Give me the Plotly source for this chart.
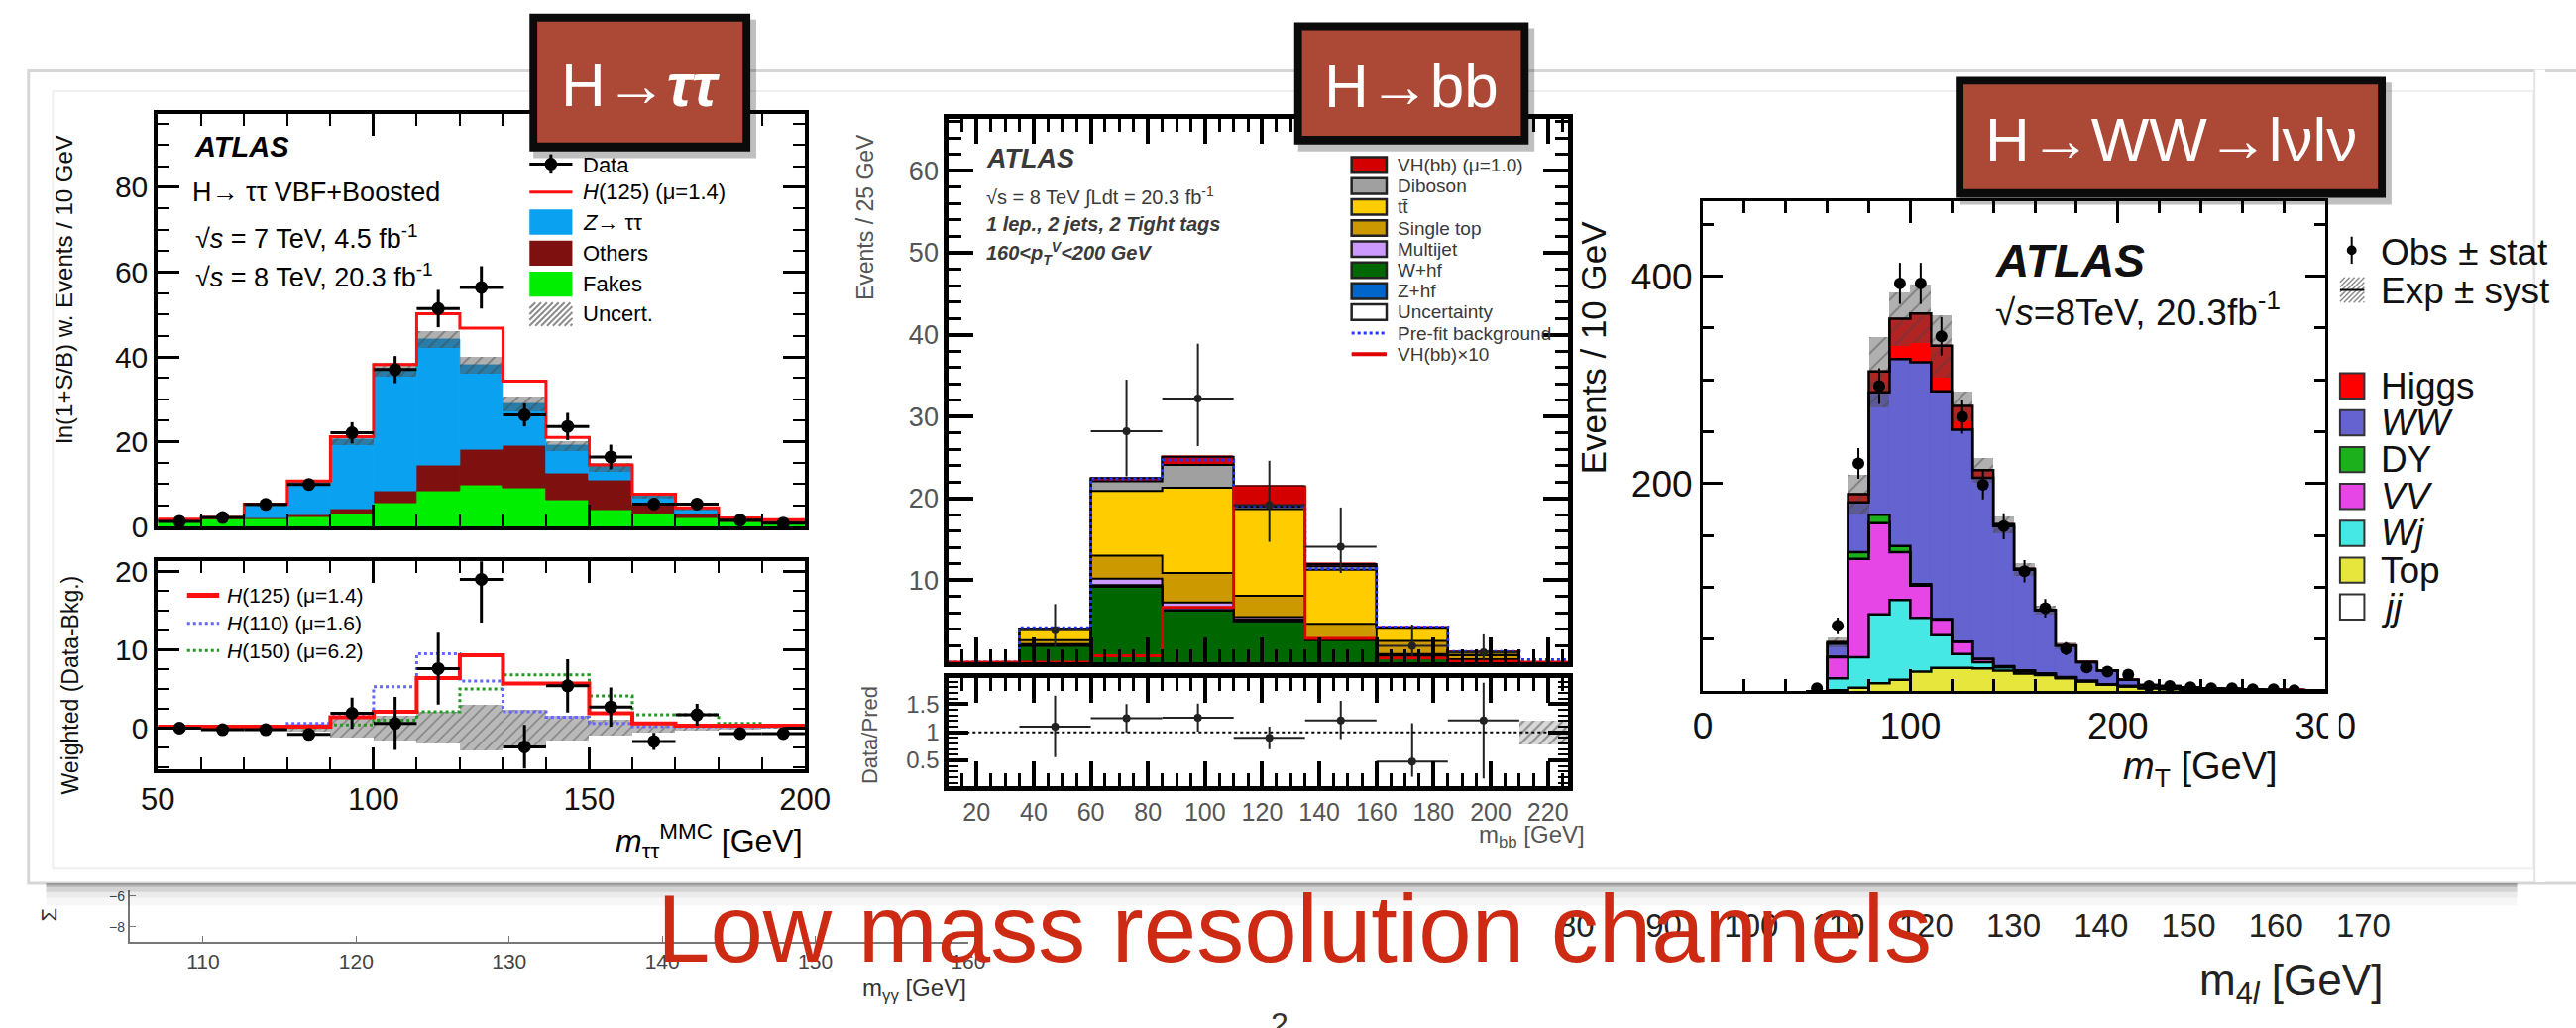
import numpy as np
import plotly.graph_objects as go

W, H = 2599, 1037
SANS = "Liberation Sans, Arial, Helvetica, sans-serif"

# ---------------- H -> tautau (VBF + Boosted), ln(1+S/B) weighted ----------------
tt_edges = [50, 60, 70, 80, 90, 100, 110, 120, 130, 140, 150, 160, 170, 180, 190, 200]
tt_fakes = [1.4, 1.8, 1.7, 2.3, 2.9, 5.6, 8.2, 9.8, 9.1, 6.1, 3.8, 3.0, 1.9, 1.1, 0.8]
tt_others = [0.2, 0.2, 0.3, 0.5, 1.1, 2.6, 6.2, 8.4, 9.9, 6.5, 7.2, 2.0, 1.1, 0.4, 0.6]
tt_ztautau = [0.0, 0.1, 3.1, 7.7, 16.4, 28.8, 29.8, 19.9, 10.0, 6.4, 3.1, 2.2, 1.2, 0.4, 0.1]
tt_h125 = [0.1, 0.0, 0.2, 0.2, 0.8, 1.2, 6.0, 8.7, 5.3, 2.0, 0.4, 0.4, 0.2, 0.1, 0.1]
tt_unc = [0.2, 0.2, 0.4, 0.6, 1.0, 1.6, 2.0, 2.0, 1.8, 1.2, 1.0, 0.6, 0.4, 0.2, 0.2]
tt_data = [1.2, 2.1, 5.2, 9.9, 22.1, 37.0, 51.4, 56.4, 26.3, 23.6, 16.4, 5.3, 5.3, 1.5, 0.8]
tt_data_err = [0.6, 0.8, 1.0, 1.3, 2.5, 3.2, 4.4, 5.0, 2.7, 3.2, 2.9, 1.2, 1.3, 0.6, 0.5]

# weighted (data - background) sub-panel
tt_sub_data = [0.0, -0.2, -0.2, -0.8, 1.9, 0.6, 7.6, 19.0, -2.4, 5.4, 2.7, -1.7, 1.7, -0.7, -0.7]
tt_sub_err = [0.3, 0.3, 0.4, 0.7, 2.0, 3.4, 4.6, 5.5, 2.8, 3.4, 2.5, 1.1, 1.4, 0.6, 0.5]
tt_sub_h125 = [0.2, 0.2, 0.2, 0.2, 1.4, 2.1, 6.4, 9.3, 5.7, 5.7, 1.9, 0.6, 0.3, 0.3, 0.3]
tt_sub_h110 = [0.2, 0.2, 0.2, 0.6, 1.5, 5.3, 9.5, 6.0, 2.1, 1.4, 0.6, 0.2, 0.2, 0.2, 0.2]
tt_sub_h150 = [0.1, 0.1, 0.1, 0.1, 0.4, 1.0, 2.1, 5.0, 6.8, 6.8, 4.1, 1.7, 1.7, 0.6, 0.2]
tt_sub_unc = [0.1, 0.1, 0.2, 0.5, 1.2, 1.6, 2.0, 2.9, 2.3, 1.6, 1.0, 0.6, 0.4, 0.2, 0.1]

# ---------------- VH, H -> bb (1 lepton, 2 jets, 2 tight tags) ----------------
bb_edges = [10, 35, 60, 85, 110, 135, 160, 185, 210, 235]
bb_whf = [0, 2.0, 9.2, 6.3, 5.0, 2.7, 0.8, 0.3, 0]
bb_zhf = [0, 0.1, 0.2, 0.3, 0.2, 0.1, 0.1, 0.05, 0]
bb_multijet = [0, 0.1, 0.8, 0.7, 0.3, 0.1, 0.1, 0.0, 0]
bb_singletop = [0, 0.5, 2.8, 3.6, 2.6, 1.8, 1.6, 0.5, 0]
bb_ttbar = [0, 1.3, 7.9, 10.4, 10.6, 6.6, 1.5, 0.3, 0]
bb_diboson = [0, 0.1, 1.2, 2.8, 0.3, 0.4, 0.1, 0.1, 0]
bb_vh = [0, 0.0, 0.4, 1.0, 2.5, 0.3, 0.05, 0.0, 0]
bb_prefit = [0, 4.2, 22.4, 24.7, 19.1, 11.4, 4.3, 1.3, 0.3]
bb_vh_x10 = [0, 0, 0.8, 6.7, 21.3, 2.9, 0.5, 0.1, 0]
bb_data = [None, 3.9, 28.2, 32.2, 19.2, 14.1, 2.0, 1.2, None]
bb_data_up = [0, 3.2, 6.3, 6.7, 5.4, 4.8, 2.6, 2.2, 0]
bb_data_dn = [0, 2.0, 5.5, 5.8, 4.5, 3.2, 1.3, 1.0, 0]
bb_ratio = [None, 1.10, 1.25, 1.26, 0.90, 1.21, 0.48, 1.21, None]
bb_ratio_up = [0, 0.55, 0.25, 0.25, 0.20, 0.35, 0.68, 0.67, 0]
bb_ratio_dn = [0, 0.54, 0.25, 0.25, 0.20, 0.33, 0.27, 1.03, 0]
bb_ratio_unc = [0, 0.0, 0.0, 0.0, 0.0, 0.0, 0.0, 0.0, 0.21]

# ---------------- H -> WW -> lvlv, transverse mass ----------------
ww_edges = [50, 60, 70, 80, 90, 100, 110, 120, 130, 140, 150, 160, 170, 180, 190,
            200, 210, 220, 230, 240, 250, 260, 270, 280, 290, 300]
ww_top = [0, 1.0, 3.5, 7.8, 11.0, 19.0, 22.5, 22.5, 22.0, 20.0, 17.0, 15.6, 12.5, 9.4, 6.2,
          4.7, 3.0, 2.2, 1.6, 1.2, 1.0, 0.8, 0.6, 0.5, 0.4]
ww_wj = [0, 11.5, 29.3, 66.2, 77.0, 51.7, 31.5, 13.5, 6.0, 3.0, 2.0, 0.9, 0.5, 0.3, 0.2,
         0.2, 0.1, 0.1, 0.1, 0, 0, 0, 0, 0, 0]
ww_vv = [0, 20.3, 94.7, 88.0, 46.0, 31.0, 15.0, 11.5, 3.0, 1.0, 1.0, 0.5, 0.5, 0.3, 0.2,
         0.1, 0.1, 0.1, 0, 0, 0, 0, 0, 0, 0]
ww_dy = [0, 0.5, 6.5, 8.0, 6.0, 1.5, 0.5, 0.3, 0.2, 0.1, 0.1, 0.1, 0.1, 0, 0,
         0, 0, 0, 0, 0, 0, 0, 0, 0, 0]
ww_ww = [0, 12.6, 48.0, 118.0, 180.0, 213.8, 219.5, 204.2, 174.4, 134.9, 96.9, 60.9, 30.4,
         18.0, 13.4, 6.0, 2.8, 2.6, 2.3, 1.8, 1.4, 1.2, 1.0, 0.8, 0.6]
ww_higgs = [0, 1.5, 8.0, 20.0, 39.0, 47.0, 44.0, 23.0, 7.4, 2.0, 1.0, 0.5, 0.3, 0.2, 0.1,
            0, 0, 0, 0, 0, 0, 0, 0, 0, 0]
ww_syst = [0, 5, 19, 34, 26, 28, 30, 14, 12, 8, 6, 4, 3, 2, 1.5, 1, 0.6, 0.5, 0.4, 0.3,
           0.3, 0.2, 0.2, 0.1, 0.1]
ww_data = [3, 63, 219.5, 294, 393, 393, 342, 264.5, 199, 159, 115.7, 80, 41, 23, 19, 16,
           5, 5, 4, 3, 3, 2, 2, 1, None]

# ---------------- slide text ----------------
box_labels = ["H→<b><i>ττ</i></b>", "H→bb", "H→WW→lνlν"]
slide_title = "Low mass resolution channels"
under_ticks_left = [110, 120, 130, 140, 150, 160]
under_ticks_right = [80, 90, 100, 110, 120, 130, 140, 150, 160, 170]

# =====================================================================
def px(x):
    return x / W


def py(y):
    return 1 - y / H


shapes, annots = [], []


def rect(x0, y0, x1, y1, fill, line_color=None, lw=0, layer="above"):
    shapes.append(dict(type="rect", xref="paper", yref="paper", x0=px(x0), x1=px(x1),
                       y0=py(y1), y1=py(y0), fillcolor=fill, layer=layer,
                       line=dict(color=line_color or "rgba(0,0,0,0)", width=lw)))


def seg(x0, y0, x1, y1, color, w, dash="solid", layer="above"):
    shapes.append(dict(type="line", xref="paper", yref="paper", x0=px(x0), x1=px(x1),
                       y0=py(y0), y1=py(y1), layer=layer,
                       line=dict(color=color, width=w, dash=dash)))


def dot(x, y, r, color):
    shapes.append(dict(type="circle", xref="paper", yref="paper", x0=px(x - r), x1=px(x + r),
                       y0=py(y + r), y1=py(y - r), fillcolor=color, line=dict(width=0)))


def hatch(x0, y0, x1, y1, color, step=6, w=1.5):
    h = y1 - y0
    t = x0 - h
    while t < x1:
        s0 = max(0.0, (x0 - t) / h)
        s1 = min(1.0, (x1 - t) / h)
        if s1 > s0:
            seg(t + s0 * h, y1 - s0 * h, t + s1 * h, y1 - s1 * h, color, w)
        t += step


def text(x, y, s, size, color="black", xa="left", ya="middle", angle=0, family=SANS):
    annots.append(dict(x=px(x), y=py(y), xref="paper", yref="paper", text=s, showarrow=False,
                       xanchor=xa, yanchor=ya, textangle=angle,
                       font=dict(family=family, size=size, color=color)))


def centers_widths(edges):
    e = np.asarray(edges, float)
    return 0.5 * (e[:-1] + e[1:]), np.diff(e)


def step_xy(edges, vals, close=True):
    e = list(edges)
    v = list(vals)
    if close:
        return [e[0]] + e[:-1] + [e[-1], e[-1]], [0] + v + [v[-1], 0]
    return e[:-1] + [e[-1]], v + [v[-1]]


fig = go.Figure()


def stack(edges, comps, colors, xa, ya, outline=None, ow=2):
    c, w = centers_widths(edges)
    base = np.zeros(len(c))
    for vals, col in zip(comps, colors):
        v = np.asarray(vals, float)
        fig.add_trace(go.Bar(x=c, y=v, base=base.copy(), width=w, xaxis=xa, yaxis=ya,
                             marker=dict(color=col, line=dict(color=col, width=1)),
                             showlegend=False, hoverinfo="skip"))
        base = base + v
        if outline:
            sx, sy = step_xy(edges, base)
            fig.add_trace(go.Scatter(x=sx, y=sy, mode="lines", line_shape="hv", xaxis=xa, yaxis=ya,
                                     line=dict(color=outline, width=ow), showlegend=False,
                                     hoverinfo="skip"))
    return base


def band(edges, centre, half, xa, ya, color, size=9, sol=0.3):
    c, w = centers_widths(edges)
    centre = np.asarray(centre, float)
    half = np.asarray(half, float)
    fig.add_trace(go.Bar(x=c, y=2 * half, base=centre - half, width=w, xaxis=xa, yaxis=ya,
                         marker=dict(color=color, line=dict(width=0),
                                     pattern=dict(shape="/", size=size, solidity=sol)),
                         showlegend=False, hoverinfo="skip"))


def step_line(edges, vals, xa, ya, color, width, dash="solid"):
    sx, sy = step_xy(edges, vals, close=False)
    fig.add_trace(go.Scatter(x=sx, y=sy, mode="lines", line_shape="hv", xaxis=xa, yaxis=ya,
                             line=dict(color=color, width=width, dash=dash),
                             showlegend=False, hoverinfo="skip"))


def points(edges, vals, up, dn, xa, ya, size, thick, color="black", xerr=True):
    c, w = centers_widths(edges)
    fig.add_trace(go.Scatter(
        x=c, y=vals, mode="markers", xaxis=xa, yaxis=ya,
        marker=dict(color=color, size=size),
        error_y=dict(type="data", symmetric=False, array=up, arrayminus=dn,
                     thickness=thick, width=0, color=color),
        error_x=dict(type="data", array=w / 2, thickness=thick, width=0, color=color,
                     visible=xerr),
        showlegend=False, hoverinfo="skip"))


# ---------------- left: H -> tautau ----------------
C_FAKE, C_OTH, C_Z = "#00EE00", "#7E1010", "#0AA2F0"
tt_bkg = stack(tt_edges, [tt_fakes, tt_others, tt_ztautau], [C_FAKE, C_OTH, C_Z], "x", "y")
band(tt_edges, tt_bkg, tt_unc, "x", "y", "rgba(80,80,80,0.45)", size=9, sol=0.18)
step_line(tt_edges, tt_bkg + np.asarray(tt_h125), "x", "y", "#FF1010", 3)
points(tt_edges, tt_data, tt_data_err, tt_data_err, "x", "y", 13, 3)

band(tt_edges, np.zeros(len(tt_sub_unc)), tt_sub_unc, "x2", "y2", "rgba(100,100,100,0.45)", size=8, sol=0.18)
step_line(tt_edges, tt_sub_h150, "x2", "y2", "#229922", 3, "dot")
step_line(tt_edges, tt_sub_h110, "x2", "y2", "#6666FF", 3, "dot")
step_line(tt_edges, tt_sub_h125, "x2", "y2", "#FF1010", 4)
points(tt_edges, tt_sub_data, tt_sub_err, tt_sub_err, "x2", "y2", 13, 3)

# ---------------- middle: H -> bb ----------------
C_WHF, C_ZHF, C_MJ, C_STOP, C_TT, C_VV, C_VH = ("#006600", "#0066CC", "#CC99FF", "#CC9900",
                                               "#FFCC00", "#A0A0A0", "#D40000")
stack(bb_edges, [bb_whf, bb_zhf, bb_multijet, bb_singletop, bb_ttbar, bb_diboson, bb_vh],
      [C_WHF, C_ZHF, C_MJ, C_STOP, C_TT, C_VV, C_VH], "x3", "y3", outline="black", ow=2)
step_line(bb_edges, bb_prefit, "x3", "y3", "#2233FF", 3, "dot")
step_line(bb_edges, bb_vh_x10, "x3", "y3", "#E00000", 3)
points(bb_edges, bb_data, bb_data_up, bb_data_dn, "x3", "y3", 8, 2, color="#222222")

band(bb_edges, np.ones(len(bb_ratio_unc)), bb_ratio_unc, "x4", "y4", "rgba(170,170,170,0.45)", size=7, sol=0.3)
points(bb_edges, bb_ratio, bb_ratio_up, bb_ratio_dn, "x4", "y4", 8, 2, color="#222222")

# ---------------- right: H -> WW ----------------
C_TOP, C_WJ, C_VVw, C_DY, C_WW, C_H = "#E6E63C", "#46E8E6", "#E646E6", "#1CB01C", "#6563CF", "#FF0000"
ww_tot = stack(ww_edges, [ww_top, ww_wj, ww_vv, ww_dy, ww_ww, ww_higgs],
               [C_TOP, C_WJ, C_VVw, C_DY, C_WW, C_H], "x5", "y5", outline="black", ow=2.5)
band(ww_edges, ww_tot, ww_syst, "x5", "y5", "rgba(80,80,80,0.45)", size=12, sol=0.14)
ww_err = [np.sqrt(v) if v is not None else 0 for v in ww_data]
points(ww_edges, ww_data, ww_err, ww_err, "x5", "y5", 12, 2, xerr=False)

# ---------------- slide underneath (partly hidden) ----------------
fig.add_trace(go.Scatter(x=[None], y=[None], xaxis="x6", yaxis="y6", showlegend=False))
fig.add_trace(go.Scatter(x=[None], y=[None], xaxis="x7", yaxis="y7", showlegend=False))

# ---------------- axes ----------------
def frame(domain, rng, lw, tl, tw, font, minor=None, **kw):
    d = dict(domain=domain, range=rng, showgrid=False, zeroline=False, showline=True,
             linecolor="black", linewidth=lw, mirror="allticks", ticks="inside", ticklen=tl,
             tickwidth=tw, tickcolor="black", tickfont=font, layer="above traces")
    if minor:
        d["minor"] = dict(ticks="inside", tickcolor="black", showgrid=False, **minor)
    d.update(kw)
    return d


FL = dict(family=SANS, size=30, color="#111111")
FM = dict(family=SANS, size=26, color="#555555")
FR = dict(family=SANS, size=37, color="#111111")
xl = [px(145), px(810)]
xm = [px(958), px(1594)]
xr = [px(1733), px(2373)]

layout_axes = dict(
    xaxis=frame(xl, [50, 200], 4, 22, 3, FL, dict(dtick=10, ticklen=12, tickwidth=2),
                tickvals=[50, 100, 150, 200], showticklabels=False, anchor="y"),
    yaxis=frame([py(537), py(111)], [0, 97.4], 4, 22, 3, FL, dict(dtick=5, ticklen=12, tickwidth=2),
                tickvals=[0, 20, 40, 60, 80], anchor="x"),
    xaxis2=frame(xl, [50, 200], 4, 22, 3, dict(FL, size=31), dict(dtick=10, ticklen=12, tickwidth=2),
                 tickvals=[50, 100, 150, 200], anchor="y2"),
    yaxis2=frame([py(787), py(573)], [-5.2, 21.3], 4, 22, 3, FL, dict(dtick=2.5, ticklen=12, tickwidth=2),
                 tickvals=[0, 10, 20], anchor="x2"),
    xaxis3=frame(xm, [10.3, 226.9], 5, 25, 4, FM, dict(dtick=5, tick0=0, ticklen=13, tickwidth=3),
                 tickvals=list(range(20, 221, 20)), showticklabels=False, anchor="y3"),
    yaxis3=frame([py(677), py(117)], [0, 66.3], 5, 25, 4, dict(FM, size=27),
                 dict(dtick=2, tick0=0, ticklen=13, tickwidth=3),
                 tickvals=[10, 20, 30, 40, 50, 60], anchor="x3"),
    xaxis4=frame(xm, [10.3, 226.9], 5, 25, 4, dict(FM, size=25), dict(dtick=5, tick0=0, ticklen=13, tickwidth=3),
                 tickvals=list(range(20, 221, 20)), anchor="y4"),
    yaxis4=frame([py(805), py(693)], [0.04, 1.97], 5, 20, 4, dict(FM, size=24),
                 dict(dtick=0.1, tick0=0, ticklen=10, tickwidth=2),
                 tickvals=[0.5, 1, 1.5], ticktext=["0.5", "1", "1.5"], anchor="x4"),
    xaxis5=frame(xr, [0, 300], 3, 22, 3, FR, dict(dtick=20, tick0=0, ticklen=12, tickwidth=3),
                 tickvals=[0, 100, 200, 300], anchor="y5"),
    yaxis5=frame([py(707), py(201)], [0, 472.6], 3, 20, 3, FR, dict(dtick=50, tick0=0, ticklen=11, tickwidth=3),
                 tickvals=[200, 400], anchor="x5"),
    xaxis6=dict(domain=[px(116), px(978)], range=[105.2, 160], tickvals=under_ticks_left,
                showline=True, linecolor="#777777", linewidth=2, ticks="inside", ticklen=6,
                tickcolor="#777777", showgrid=False, zeroline=False, anchor="y6",
                tickfont=dict(family=SANS, size=21, color="#444444")),
    yaxis6=dict(domain=[py(965), py(912)], range=[-8.94, -5.625], tickvals=[-6, -8],
                showline=True, linecolor="#777777", linewidth=2, ticks="inside", ticklen=6,
                tickcolor="#777777", showgrid=False, zeroline=False, anchor="x6",
                tickfont=dict(family=SANS, size=14, color="#444444")),
    xaxis7=dict(domain=[px(1560), px(2460)], range=[75.22, 175.34], tickvals=under_ticks_right,
                showline=False, ticks="", showgrid=False, zeroline=False, anchor="y7",
                tickfont=dict(family=SANS, size=33, color="#222222")),
    yaxis7=dict(domain=[py(926), py(924)], visible=False, anchor="x7"),
)

# ---------------- card / page decoration ----------------
rect(12, 67, 2640, 905, "white", "#D6D6D6", 3, layer="below")
rect(37, 88, 2587, 890, "rgba(0,0,0,0)", "#EFEFEF", 2, layer="below")
for (y0, y1, a) in [(905, 909, 0.30), (909, 914, 0.17), (914, 920, 0.08), (920, 928, 0.03)]:
    rect(30, y0, 2570, y1, "rgba(0,0,0,%.2f)" % a)

# part of the "300" label that falls outside the picture
rect(2376, 712, 2387, 760, "white")
# right border of the card clips legend text
rect(2588, 66, 2599, 904, "white")
seg(2588, 67, 2588, 904, "#E4E4E4", 2)

# ---------------- left panel texts & legends ----------------
text(180, 145, "<b><i>ATLAS</i></b>", 29)
text(178, 192, "H→ ττ VBF+Boosted", 27)
text(181, 238, "√<i>s</i> = 7 TeV, 4.5 fb<sup>-1</sup>", 27)
text(181, 278, "√<i>s</i> = 8 TeV, 20.3 fb<sup>-1</sup>", 27)
text(48, 293, "ln(1+S/B) w. Events / 10 GeV", 24, "#111111", xa="center", angle=-90)
text(56, 700, "Weighted (Data-Bkg.)", 23, "#111111", xa="center", angle=-90)
text(810, 862, "<i>m</i><sub>ττ</sub><sup>MMC</sup> [GeV]", 32, xa="right")

LX0, LX1, LT = 527, 571, 580
seg(LX0, 163, LX1, 163, "black", 3)
seg(549, 153, 549, 173, "black", 3)
dot(549, 163, 6.5, "black")
text(LT, 164, "Data", 22)
seg(LX0, 192, LX1, 192, "#FF1010", 3)
text(LT, 192, "<i>H</i>(125) (μ=1.4)", 22)
for yc, col, lab in [(223, C_Z, "<i>Z</i>→ ττ"), (255, C_OTH, "Others"), (287, C_FAKE, "Fakes")]:
    rect(LX0, yc - 13, LX1, yc + 13, col)
    text(LT, yc, lab, 22)
hatch(LX0, 306, LX1, 330, "rgba(90,90,90,0.7)", step=6, w=2)
text(LT, 318, "Uncert.", 22)

for yc, col, dash, lab in [(608, "#FF1010", "solid", "<i>H</i>(125) (μ=1.4)"),
                           (637, "#6666FF", "dot", "<i>H</i>(110) (μ=1.6)"),
                           (665, "#229922", "dot", "<i>H</i>(150) (μ=6.2)")]:
    seg(175, yc, 208, yc, col, 5 if dash == "solid" else 3, dash)
    text(214, yc, lab, 21)

# ---------------- middle panel texts & legend ----------------
GM = "#3A3A3A"
text(994, 158, "<b><i>ATLAS</i></b>", 27, GM)
text(994, 196, "√s = 8 TeV ∫Ldt = 20.3 fb<sup>-1</sup>", 20, GM)
text(994, 225, "<b><i>1 lep., 2 jets, 2 Tight tags</i></b>", 20, GM)
text(994, 255, "<b><i>160&lt;p<sub>T</sub><sup>V</sup>&lt;200 GeV</i></b>", 20, GM)
text(872, 218, "Events / 25 GeV", 23, "#555555", xa="center", angle=-90)
text(877, 752, "Data/Pred", 22, "#555555", xa="center", angle=-90)
text(1614, 857, "m<sub>bb</sub> [GeV]", 24, "#555555", xa="right")
shapes.append(dict(type="line", xref="x4 domain", yref="y4", x0=0, x1=1, y0=1, y1=1,
                   line=dict(color="black", width=2, dash="dot")))

mid_leg = [(C_VH, "VH(bb) (μ=1.0)"), (C_VV, "Diboson"), (C_TT, "tt\u0304"),
           (C_STOP, "Single top"), (C_MJ, "Multijet"), (C_WHF, "W+hf"), (C_ZHF, "Z+hf"),
           ("white", "Uncertainty")]
for i, (col, lab) in enumerate(mid_leg):
    yc = 164 + 21.7 * i
    rect(1372, yc - 8, 1408, yc + 8, col, "#222222", 2.5)
    text(1417, yc, lab, 19, GM)
yc = 164 + 21.7 * 8
seg(1372, yc, 1408, yc, "#2233FF", 3, "dot")
text(1417, yc, "Pre-fit background", 19, GM)
yc = 164 + 21.7 * 9
seg(1372, yc, 1408, yc, "#E00000", 4)
text(1417, yc, "VH(bb)×10", 19, GM)

# ---------------- right panel texts & legend ----------------
text(2032, 263, "<b><i>ATLAS</i></b>", 46, "#111111")
text(2032, 313, "√<i>s</i>=8TeV, 20.3fb<sup>-1</sup>", 37, "#111111")
text(1620, 352, "Events / 10 GeV", 35, "#111111", xa="center", angle=-90)
text(2326, 787, "<i>m</i><sub>T</sub> [GeV]", 38, "#111111", xa="right")

seg(2400, 238, 2400, 266, "black", 2)
dot(2400, 252, 5, "black")
text(2428, 254, "Obs ± stat", 37, "#111111")
hatch(2388, 280, 2413, 306, "rgba(90,90,90,0.7)", step=5, w=1.5)
seg(2388, 293, 2413, 293, "black", 2)
text(2428, 294, "Exp ± syst", 37, "#111111")
right_leg = [(C_H, "Higgs"), (C_WW, "<i>WW</i>"), (C_DY, "DY"), (C_VVw, "<i>VV</i>"),
             (C_WJ, "<i>Wj</i>"), (C_TOP, "Top"), ("white", "<i>jj</i>")]
for i, (col, lab) in enumerate(right_leg):
    yc = 392 + 38 * i
    rect(2388, yc - 13, 2413, yc + 13, col, "#333333", 2)
    text(2428, yc, lab, 37, "#111111")

# ---------------- channel boxes ----------------
BOX = "#AC4836"
for (x0, y0, x1, y1), lab in zip([(527, 8, 754, 150), (1313, 17, 1554, 143), (1993, 73, 2435, 198)],
                                 box_labels):
    rect(x0 + 4, y0 + 6, x1 + 6, y1 + 7, "rgba(0,0,0,0.25)")
    rect(x0, y0, x1, y1, "#0B0B0B")
    rect(x0 + 8, y0 + 8, x1 - 8, y1 - 9, BOX)
    text((x0 + x1) / 2, (y0 + y1) / 2 + 2, lab, 62, "white", xa="center")

# ---------------- slide underneath: labels ----------------
text(33, 937, "Σ", 22, "#333333", xa="center", angle=-90)
text(978, 1015, "m<sub>γγ</sub> [GeV]", 24, "#333333", xa="right")
text(2434, 1008, "m<sub>4<i>l</i></sub> [GeV]", 44, "#222222", xa="right")
text(1298, 1050, "2", 32, "#333333", xa="center")
text(1313, 952, slide_title, 96, "#CC2A12", xa="center")

fig.update_layout(
    width=W, height=H, margin=dict(l=0, r=0, t=0, b=0),
    paper_bgcolor="white", plot_bgcolor="rgba(0,0,0,0)",
    barmode="overlay", bargap=0, showlegend=False,
    shapes=shapes, annotations=annots, font=dict(family=SANS),
    **layout_axes,
)
fig.write_html("out.html")
